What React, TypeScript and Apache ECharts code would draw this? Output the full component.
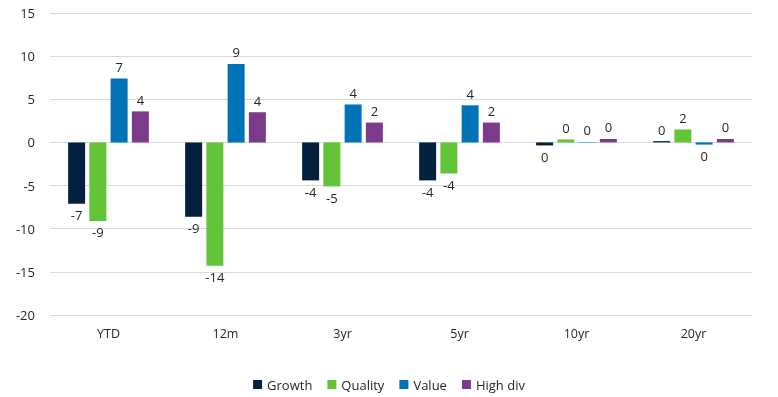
import React, { useEffect, useRef } from "react";
import * as echarts from "echarts";

const categories = ["YTD", "12m", "3yr", "5yr", "10yr", "20yr"];
const growth = [-7.1, -8.6, -4.4, -4.4, -0.35, 0.15];
const quality = [-9.1, -14.3, -5.1, -3.6, 0.35, 1.5];
const value = [7.4, 9.1, 4.4, 4.3, 0.05, -0.25];
const highDiv = [3.6, 3.5, 2.3, 2.3, 0.4, 0.4];

const seriesNames = ["Growth", "Quality", "Value", "High div"];
const seriesColors = ["#03203F", "#63C437", "#0073B6", "#7C3A8A"];
const seriesData = [growth, quality, value, highDiv];

const FONT = "'Open Sans', 'Noto Sans', sans-serif";
const TEXT = "#262626";

export default function App() {
  const ref = useRef<HTMLDivElement>(null);
  useEffect(() => {
    if (!ref.current) return;
    const chart = echarts.init(ref.current, undefined, { renderer: "svg" });
    chart.setOption({
      animation: false,
      textStyle: { fontFamily: FONT },
      grid: { left: 50, right: 26, top: 13, bottom: 82 },
      legend: {
        bottom: 1,
        left: "center",
        icon: "rect",
        itemWidth: 9,
        itemHeight: 9,
        itemGap: 15,
        textStyle: { fontFamily: FONT, fontSize: 13, color: TEXT },
        data: seriesNames,
      },
      xAxis: {
        type: "category",
        data: categories,
        axisLine: { show: false, onZero: false },
        axisTick: { show: false },
        axisLabel: { margin: 12, fontFamily: FONT, fontSize: 12.5, color: TEXT },
      },
      yAxis: {
        type: "value",
        min: -20,
        max: 15,
        interval: 5,
        axisLine: { show: false },
        axisTick: { show: false },
        axisLabel: { margin: 15, fontFamily: FONT, fontSize: 13, color: TEXT },
        splitLine: { lineStyle: { color: "#d9d9d9", width: 1 } },
      },
      series: seriesNames.map((name, i) => ({
        name,
        type: "bar",
        barCategoryGap: "31%",
        barGap: "25%",
        itemStyle: { color: seriesColors[i] },
        label: {
          show: true,
          fontFamily: FONT,
          fontSize: 13,
          color: TEXT,
          distance: 5,
          formatter: (p: any) => {
            const r = Math.round(p.value);
            return String(r === 0 ? 0 : r);
          },
        },
        data: seriesData[i].map((v) => ({
          value: v,
          label: { position: v < 0 ? "bottom" : "top" },
        })),
      })),
    });
    return () => chart.dispose();
  }, []);
  return (
    <div
      ref={ref}
      style={{ position: "fixed", top: 0, left: 0, width: 778, height: 397 }}
    />
  );
}
